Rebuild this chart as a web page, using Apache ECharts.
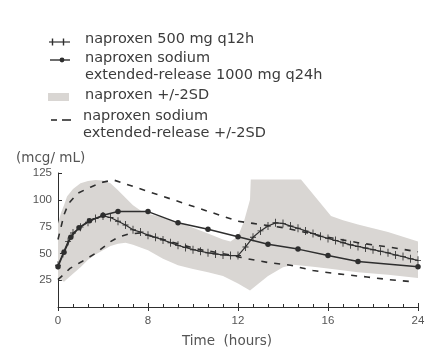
<!DOCTYPE html>
<html>
<head>
<meta charset="utf-8">
<script src="https://cdn.jsdelivr.net/npm/echarts@6/dist/echarts.min.js"></script>
<style>html,body{margin:0;padding:0;background:#fff}#c{width:447px;height:360px}</style>
</head>
<body>
<div id="c"></div>
<script>
// x positions are in axis-position units (24 even steps); tick labels as printed
const xTickPos = [0, 6, 12, 18, 24];
const xTickLabels = ['0', '8', '12', '16', '24'];
const yTicks = [25, 50, 75, 100, 125];

// naproxen 500 mg q12h (crosses)
const napT = [0,0.33,0.67,1,1.5,2,2.5,3,3.5,4,4.5,5,5.5,6,6.5,7,7.5,8,8.5,9,9.5,10,10.5,11,11.5,12,12.5,13,13.5,14,14.5,15,15.5,16,16.5,17,17.5,18,18.5,19,19.5,20,20.5,21,21.5,22,22.5,23,23.5,24];
const napV = [39,50,61,69,74.5,79,82.5,85,83.5,80,76.5,72,70,67,65,62.5,60,57.5,55.5,53.5,52,50.5,49.5,48.5,48,48,56,65,71,75.5,78.5,78,75.5,73.5,71,68.5,66,64,62,60,58,56.5,55,53.5,52,50.5,48.5,47,45,43.5];

// naproxen sodium ER 1000 mg q24h (dots)
const erT = [0,0.4,0.85,1.4,2.1,3,4,6,8,10,12,14,16,18,20,24];
const erV = [37.5,51,65,74,80.5,85.5,89,89,78.5,72.5,65.5,58.5,54,48,42.5,37.5];

// naproxen +/-2SD band
const bandUpT = [0,0.2,0.4,0.6,1,1.5,2,2.5,3,3.5,4,4.5,5,5.5,6,7,8,9,10,11,11.5,12,12.4,12.8,12.85,16.2,18.2,19,20,21,22,23,24];
const bandUpV = [78,88,95,103,110,115.5,117.5,118.5,118,115.5,109,102,95,90,87,83.5,79,74,68.5,63,61,66,80,100,119,119,85,81,77,73.5,70,65.5,61];
const bandLoT = [0,0.4,1,1.5,2,2.5,3,3.5,4,4.5,5,5.5,6,7,8,9,10,11,12,12.8,14,15,15.7,17,18,20,22,24];
const bandLoV = [27,23.5,31,37,44,49,53,57,59,60,58,55.5,53,45,39,35.5,32.5,29,22,15.5,29,37,39.5,37.5,36,32.5,30,27];

// naproxen sodium ER +/-2SD (dashed)
const erUpT = [0,0.4,0.7,1.3,2.2,3,3.7,12,13,14,15,16,17,18,20,22,24];
const erUpV = [63,86,96.5,106,112,116.5,118.5,80,78,76,74,71,68,65,60,56,51.5];
const erLoT = [0,0.8,1.6,2.5,3.5,4,4.7,5.5,6.5,7.5,8.5,9.5,10.5,11.5,12.1,13.2,14,15.5,17,18.6,20.6,22.1,23.7];
const erLoV = [25.5,36,42.5,50,61,65,68,69,65,61,57,53.5,51,48.5,46.5,43.5,41.5,39,34,31,28,25.5,23.5];

const zip = (a, b) => a.map((t, i) => [t, b[i]]);
const INK = '#2e2e2e';
const BAND = '#d9d6d3';
const PLUS = 'path://M-0.14,-1H0.14V1H-0.14Z M-1,-0.12H1V0.12H-1Z';
const legendFont = { fontFamily: 'DejaVu Sans', fontSize: 14.5, fill: '#3c3c3c' };
const seg = (x1, y1, x2, y2, w) => ({ type: 'line', shape: { x1, y1, x2, y2 }, style: { stroke: INK, lineWidth: w } });

const chart = echarts.init(document.getElementById('c'), null, { renderer: 'canvas' });
chart.setOption({
  animation: false,
  backgroundColor: '#fff',
  grid: { left: 58, right: 29, top: 173, bottom: 53 },
  xAxis: [{
    type: 'value', min: 0, max: 24, interval: 6, position: 'bottom',
    axisLine: { lineStyle: { color: INK, width: 1 } },
    axisTick: { inside: true, length: 4, lineStyle: { color: INK } },
    minorTick: { show: true, splitNumber: 6, length: 3, lineStyle: { color: INK, width: 1 } },
    splitLine: { show: false },
    axisLabel: {
      margin: 8, color: '#555', fontFamily: 'Liberation Sans', fontSize: 11.5,
      formatter: v => { const i = xTickPos.indexOf(v); return i >= 0 ? xTickLabels[i] : ''; }
    },
    name: 'Time  (hours)', nameLocation: 'middle', nameGap: 27,
    nameTextStyle: { color: '#555', fontFamily: 'DejaVu Sans', fontSize: 13.5, padding: [0, 22, 0, 0] }
  }, {
    type: 'value', min: 0, max: 24, interval: 6, position: 'top', offset: -134,
    axisLine: { show: false },
    axisTick: { inside: true, length: 4, lineStyle: { color: INK } },
    axisLabel: { show: false }, splitLine: { show: false }
  }],
  yAxis: {
    type: 'value', min: 0, max: 125, interval: 25,
    axisLine: { show: true, lineStyle: { color: INK, width: 1 } },
    axisTick: { show: true, inside: true, length: 4, lineStyle: { color: INK } },
    splitLine: { show: false },
    axisLabel: {
      margin: 6, color: '#555', fontFamily: 'Liberation Sans', fontSize: 11.5,
      formatter: v => (yTicks.indexOf(v) >= 0 ? String(v) : '')
    }
  },
  series: [
    {
      type: 'custom', name: 'naproxen +/-2SD', z: 1, clip: true,
      data: zip(bandUpT, bandUpV),
      encode: { x: 0, y: 1 },
      renderItem: function (params, api) {
        if (params.dataIndex !== 0) return null;
        const pts = [];
        for (let i = 0; i < bandUpT.length; i++) pts.push(api.coord([bandUpT[i], bandUpV[i]]));
        for (let i = bandLoT.length - 1; i >= 0; i--) pts.push(api.coord([bandLoT[i], bandLoV[i]]));
        return { type: 'polygon', shape: { points: pts }, style: { fill: BAND } };
      }
    },
    {
      type: 'line', name: 'ER +2SD', z: 3, data: zip(erUpT, erUpV), showSymbol: false, symbol: 'none',
      lineStyle: { color: INK, width: 1.6, type: [6, 7] }
    },
    {
      type: 'line', name: 'ER -2SD', z: 3, data: zip(erLoT, erLoV), showSymbol: false, symbol: 'none',
      lineStyle: { color: INK, width: 1.6, type: [6, 7] }
    },
    {
      type: 'line', name: 'naproxen sodium ER', z: 4, data: zip(erT, erV),
      symbol: 'circle', symbolSize: 5.5, showAllSymbol: true,
      itemStyle: { color: INK }, lineStyle: { color: INK, width: 1.5 }
    },
    {
      type: 'line', name: 'naproxen', z: 5, data: zip(napT, napV),
      symbol: PLUS, symbolSize: [6, 8], showAllSymbol: true,
      itemStyle: { color: INK }, lineStyle: { color: INK, width: 1.2 }
    }
  ],
  graphic: [
    // legend row 1
    seg(49, 42, 70, 42, 1.2),
    seg(52.5, 38.5, 52.5, 45.5, 1.4),
    seg(63.5, 38.5, 63.5, 45.5, 1.4),
    { type: 'text', left: 85, top: 32, style: Object.assign({ text: 'naproxen 500 mg q12h' }, legendFont) },
    // legend row 2
    seg(50, 60, 70, 60, 1.4),
    { type: 'circle', shape: { cx: 62, cy: 60, r: 2.4 }, style: { fill: INK } },
    { type: 'text', left: 85, top: 51, style: Object.assign({ text: 'naproxen sodium' }, legendFont) },
    { type: 'text', left: 85, top: 68, style: Object.assign({ text: 'extended-release 1000 mg q24h' }, legendFont) },
    // legend row 3
    { type: 'rect', shape: { x: 48, y: 93, width: 21, height: 8 }, style: { fill: BAND } },
    { type: 'text', left: 85, top: 88, style: Object.assign({ text: 'naproxen +/-2SD' }, legendFont) },
    // legend row 4
    seg(51, 120, 57, 120, 1.6),
    seg(62, 120, 71, 120, 1.6),
    { type: 'text', left: 83, top: 109, style: Object.assign({ text: 'naproxen sodium' }, legendFont) },
    { type: 'text', left: 83, top: 126, style: Object.assign({ text: 'extended-release +/-2SD' }, legendFont) },
    // y-axis unit
    { type: 'text', left: 16, top: 151, style: { text: '(mcg/ mL)', fontFamily: 'DejaVu Sans', fontSize: 13.5, fill: '#555' } }
  ]
});
</script>
</body>
</html>
